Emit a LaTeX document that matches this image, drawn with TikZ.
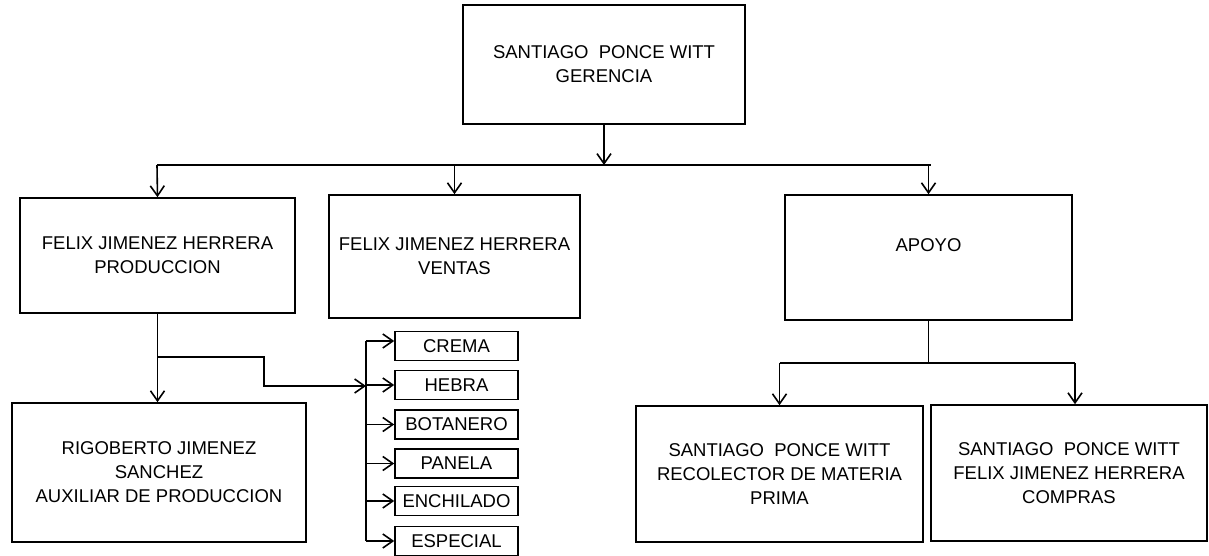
\documentclass[tikz,border=0pt]{standalone}
\usepackage{fontspec}
\setmainfont{Liberation Sans}
\usetikzlibrary{arrows.meta}
\begin{document}
\begin{tikzpicture}[x=1pt,y=-1pt,
  box/.style={draw,line width=1.6pt,align=center,inner sep=0pt,
    font=\fontsize{18.5}{24}\selectfont},
  prodbox/.style={box,minimum width=123pt,minimum height=29pt},
  conn/.style={line width=1.6pt},
  arr/.style={conn,-{Straight Barb[length=10pt,width=14pt,line width=1.6pt]}}]
\useasboundingbox (0,0) rectangle (1209,556);
\node[box,minimum width=282pt,minimum height=119pt] (top) at (604,64.5) {SANTIAGO\ \ PONCE WITT\\GERENCIA};
\node[box,minimum width=275pt,minimum height=115pt] (prod) at (157.5,255.5) {FELIX JIMENEZ HERRERA\\PRODUCCION};
\node[box,minimum width=251pt,minimum height=123pt] (ventas) at (454.5,256.5) {FELIX JIMENEZ HERRERA\\VENTAS};
\node[box,minimum width=287pt,minimum height=125pt] (apoyo) at (928.5,257.5) {APOYO\\\mbox{}};
\node[box,minimum width=294pt,minimum height=139pt] (rigo) at (159,472.5) {RIGOBERTO JIMENEZ\\SANCHEZ\\AUXILIAR DE PRODUCCION};
\node[box,minimum width=287pt,minimum height=136pt] (recol) at (779.5,474) {SANTIAGO\ \ PONCE WITT\\RECOLECTOR DE MATERIA\\PRIMA};
\node[box,minimum width=276pt,minimum height=136pt] (compras) at (1069,473) {SANTIAGO\ \ PONCE WITT\\FELIX JIMENEZ HERRERA\\COMPRAS};
\node[prodbox] (crema) at (456.5,346) {CREMA};
\node[prodbox] (hebra) at (456.5,385) {HEBRA};
\node[prodbox] (botanero) at (456.5,424.5) {BOTANERO};
\node[prodbox] (panela) at (456.5,463.5) {PANELA};
\node[prodbox] (enchilado) at (456.5,501) {ENCHILADO};
\node[prodbox] (especial) at (456.5,541) {ESPECIAL};
% top level
\coordinate (tj) at (604,165);
\coordinate (hl) at (157,165);
\coordinate (hr) at (931,165);
\draw[arr] (top.south) -- (tj);
\draw[conn] (hl) -- (hr);
\draw[arr] (hl) -- (prod.north);
\draw[arr] (ventas.north |- tj) -- (ventas.north);
\draw[arr] (apoyo.north |- tj) -- (apoyo.north);
% production
\draw[arr] (prod.south) -- (rigo.north -| prod.south);
\coordinate (b1) at (157.5,357);
\coordinate (b2) at (264,357);
\coordinate (b3) at (264,386);
\coordinate (bt) at (366,341);
\coordinate (bb) at (366,541);
\draw[arr] (b1) -- (b2) -- (b3) -- (bt |- b3);
\draw[conn] (bt) -- (bb);
\draw[arr] (bt) -- (crema.west |- bt);
\draw[arr] (bt |- hebra.west) -- (hebra.west);
\draw[arr] (bt |- botanero.west) -- (botanero.west);
\draw[arr] (bt |- panela.west) -- (panela.west);
\draw[arr] (bt |- enchilado.west) -- (enchilado.west);
\draw[arr] (bb) -- (especial.west |- bb);
% apoyo
\coordinate (aj) at (928.5,363);
\coordinate (al) at (779.5,363);
\coordinate (ar) at (1075,363);
\draw[conn] (apoyo.south) -- (aj);
\draw[conn] (al) -- (ar);
\draw[arr] (al) -- (recol.north);
\draw[arr] (ar) -- (compras.north -| ar);
\end{tikzpicture}
\end{document}
